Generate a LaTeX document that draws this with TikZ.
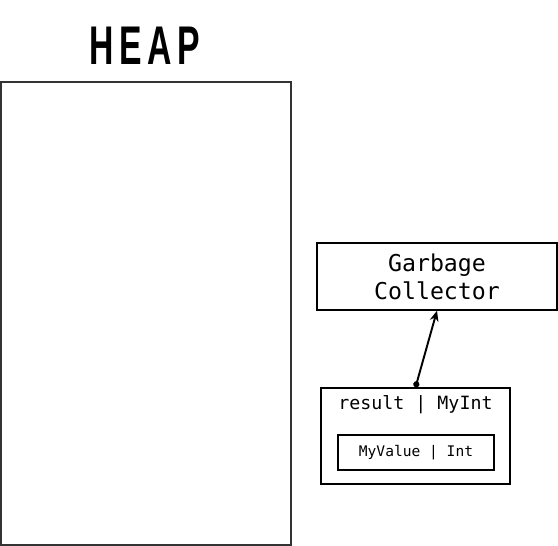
\documentclass[tikz,border=0pt]{standalone}
\usepackage{fontspec}
\setmonofont{DejaVu Sans Mono}
\newfontfamily\heapfont[FakeStretch=0.62,LetterSpace=10]{Liberation Sans}
\usetikzlibrary{arrows.meta,positioning}

\begin{document}
\begin{tikzpicture}
        \tikzset{
            membox/.style={draw, thick, inner sep=0pt},
            codetext/.style={font=\ttfamily, inner sep=0pt}
        }
        \useasboundingbox (0,0) rectangle (11.16,10.92);

        % heap area with its title
        \node[draw, line width=1.1pt, draw=black!80, minimum width=5.8cm, minimum height=9.26cm] (heap) at (2.92,4.65) {};
        \node[font=\heapfont\bfseries\fontsize{31}{31}\selectfont, inner sep=0pt] (heaptitle) at (2.9,10.0) {HEAP};

        % collector on the right
        \node[membox, minimum width=4.8cm, minimum height=1.34cm, align=center, font=\ttfamily\fontsize{13.2}{16}\selectfont] (gc) at (8.74,5.39) {Garbage\\Collector};

        % object with its field
        \node[membox, minimum width=3.78cm, minimum height=1.92cm] (result) at (8.31,2.2) {};
        \node[codetext, font=\ttfamily\fontsize{10.4}{12}\selectfont] (resultname) at (8.31,2.82) {result | MyInt};
        \node[membox, minimum width=3.12cm, minimum height=0.7cm, font=\ttfamily\fontsize{8.3}{10}\selectfont] (myvalue) at (8.32,1.87) {MyValue | Int};

        \draw[line width=1.1pt, {Circle[length=3.5pt]}-{Stealth[length=6pt,width=5pt]}] (result.north) -- (gc.south);
    \end{tikzpicture}
\end{document}
